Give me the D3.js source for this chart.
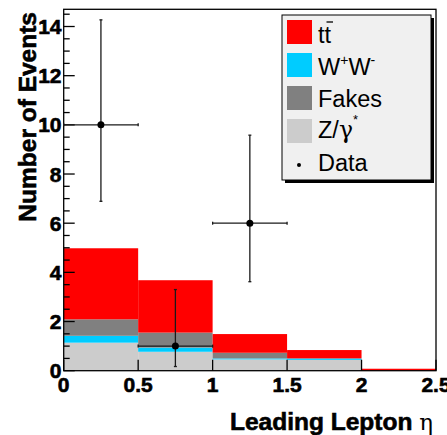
<!DOCTYPE html>
<html>
<head>
<meta charset="utf-8">
<script src="https://cdn.jsdelivr.net/npm/d3@7"></script>
<style>
  html, body { margin: 0; padding: 0; background: #fff; }
  svg { display: block; font-family: "Liberation Sans", Arial, sans-serif; }
  .bold { font-weight: bold; stroke: #000; stroke-width: 0.6px; }
</style>
</head>
<body>
<svg id="chart" width="447" height="435"></svg>
<script>
// Bin edges of the leading-lepton pseudorapidity histogram
const binEdges = [0, 0.5, 1, 1.5, 2, 2.5];

// Stacked background contributions per bin (bottom to top)
const zgamma = [1.14, 0.77, 0.46, 0.44, 0.0];
const wwPair = [0.28, 0.17, 0.04, 0.06, 0.0];
const fakes  = [0.67, 0.61, 0.23, 0.0, 0.0];
const ttbar  = [2.89, 2.13, 0.76, 0.34, 0.08];

// Observed data with asymmetric (Poisson) errors
const dataX   = [0.25, 0.75, 1.25];
const dataY   = [10, 1, 6];
const dataErrUp = [4.27, 2.30, 3.58];
const dataErrDn = [3.11, 0.83, 2.38];

const xTicks = [0, 0.5, 1, 1.5, 2, 2.5];
const xTickLabels = ["0", "0.5", "1", "1.5", "2", "2.5"];
const yTicks = [0, 2, 4, 6, 8, 10, 12, 14];

const svg = d3.select("#chart");
const margin = { left: 63.7, right: 11, top: 9.3, bottom: 64.3 };
const W = 447, H = 435;

const x = d3.scaleLinear().domain([0, 2.5]).range([margin.left, W - margin.right]);
const y = d3.scaleLinear().domain([0, 14.7]).range([H - margin.bottom, margin.top]);

const components = [
  { name: "zgamma", values: zgamma, color: "#cccccc" },
  { name: "ww",     values: wwPair, color: "#00ccff" },
  { name: "fakes",  values: fakes,  color: "#808080" },
  { name: "ttbar",  values: ttbar,  color: "#ff0000" }
];

// Build stacked rectangles
const bins = d3.range(binEdges.length - 1);
const stackRows = bins.map(i => {
  const row = { bin: i };
  components.forEach(c => { row[c.name] = c.values[i]; });
  return row;
});
const stack = d3.stack().keys(components.map(c => c.name))(stackRows);

const gHist = svg.append("g");
stack.forEach((layer, li) => {
  gHist.selectAll(null)
    .data(layer)
    .join("rect")
    .attr("x", d => x(binEdges[d.data.bin]))
    .attr("width", d => x(binEdges[d.data.bin + 1]) - x(binEdges[d.data.bin]))
    .attr("y", d => y(d[1]))
    .attr("height", d => Math.max(0, y(d[0]) - y(d[1])))
    .attr("fill", components[li].color);
});

// Frame
svg.append("rect")
  .attr("x", x(0)).attr("y", y(14.7))
  .attr("width", x(2.5) - x(0)).attr("height", y(0) - y(14.7))
  .attr("fill", "none").attr("stroke", "#000").attr("stroke-width", 1.3);

// Y axis: major ticks every 2, minor every 0.5, pointing inward
const yAxis = svg.append("g");
d3.range(0, 14.7, 0.5).forEach(v => {
  const major = Math.abs(v % 2) < 1e-9;
  yAxis.append("line")
    .attr("x1", x(0)).attr("x2", x(0) + (major ? 11 : 6))
    .attr("y1", y(v)).attr("y2", y(v))
    .attr("stroke", "#000").attr("stroke-width", 1.3);
});
yAxis.selectAll("text.ylab")
  .data(yTicks)
  .join("text")
  .attr("class", "ylab bold")
  .attr("x", 61.5)
  .attr("y", d => y(d) + 7.5)
  .attr("text-anchor", "end")
  .attr("font-size", 21)
  .text(d => d);

// X axis: major ticks at each label, pointing inward
const xAxis = svg.append("g");
xTicks.forEach(v => {
  xAxis.append("line")
    .attr("x1", x(v)).attr("x2", x(v))
    .attr("y1", y(0)).attr("y2", y(0) - 11)
    .attr("stroke", "#000").attr("stroke-width", 1.3);
});
xAxis.selectAll("text.xlab")
  .data(xTicks)
  .join("text")
  .attr("class", "xlab bold")
  .attr("x", d => x(d))
  .attr("y", y(0) + 21.5)
  .attr("text-anchor", "middle")
  .attr("font-size", 21)
  .text((d, i) => xTickLabels[i]);

// Axis titles
const xTitle = svg.append("text")
  .attr("x", 433).attr("y", 430)
  .attr("text-anchor", "end")
  .attr("font-size", 24.5);
xTitle.append("tspan").attr("class", "bold").text("Leading Lepton ");
xTitle.append("tspan")
  .attr("font-family", "'DejaVu Serif', 'Liberation Serif', serif")
  .attr("font-size", 23)
  .text("η");

svg.append("text")
  .attr("class", "bold")
  .attr("transform", "translate(35.5,12) rotate(-90)")
  .attr("text-anchor", "end")
  .attr("font-size", 24.5)
  .text("Number of Events");

// Data points with error bars
const gData = svg.append("g").attr("stroke", "#1a1a1a").attr("stroke-width", 1.3);
dataX.forEach((cx, i) => {
  const lo = binEdges[Math.floor(cx / 0.5)], hi = lo + 0.5;
  const px = x(cx), py = y(dataY[i]);
  const yUp = y(dataY[i] + dataErrUp[i]), yDn = y(dataY[i] - dataErrDn[i]);
  gData.append("line").attr("x1", px).attr("x2", px).attr("y1", yUp).attr("y2", yDn);
  gData.append("line").attr("x1", px - 1.5).attr("x2", px + 1.5).attr("y1", yUp).attr("y2", yUp);
  gData.append("line").attr("x1", px - 1.5).attr("x2", px + 1.5).attr("y1", yDn).attr("y2", yDn);
  gData.append("line").attr("x1", x(lo)).attr("x2", x(hi)).attr("y1", py).attr("y2", py);
  gData.append("line").attr("x1", x(lo)).attr("x2", x(lo)).attr("y1", py - 1.5).attr("y2", py + 1.5);
  gData.append("line").attr("x1", x(hi)).attr("x2", x(hi)).attr("y1", py - 1.5).attr("y2", py + 1.5);
  svg.append("circle").attr("cx", px).attr("cy", py).attr("r", 3.5).attr("fill", "#000");
});

// Legend
const lg = svg.append("g");
lg.append("rect").attr("x", 285).attr("y", 18).attr("width", 149).attr("height", 165).attr("fill", "#000");
lg.append("rect").attr("x", 282).attr("y", 15).attr("width", 149).attr("height", 165)
  .attr("fill", "#f0f0f0").attr("stroke", "#000").attr("stroke-width", 1);

const legendRows = [
  { color: "#ff0000", top: 20 },
  { color: "#00ccff", top: 53 },
  { color: "#808080", top: 86 },
  { color: "#cccccc", top: 119 }
];
legendRows.forEach(r => {
  lg.append("rect").attr("x", 287).attr("y", r.top).attr("width", 25).attr("height", 24).attr("fill", r.color);
});
lg.append("circle").attr("cx", 299).attr("cy", 165).attr("r", 2).attr("fill", "#000");

const fs = 23.5;
lg.append("text").attr("x", 318).attr("y", 43).attr("font-size", fs).text("tt");
lg.append("line").attr("x1", 326.5).attr("x2", 333).attr("y1", 22).attr("y2", 22)
  .attr("stroke", "#000").attr("stroke-width", 1.3);

const t2 = lg.append("text").attr("x", 318).attr("y", 75).attr("font-size", fs);
t2.append("tspan").text("W");
t2.append("tspan").attr("font-size", 14).attr("dy", -10).text("+");
t2.append("tspan").attr("dy", 10).text("W");
t2.append("tspan").attr("font-size", 14).attr("dy", -10).text("-");

lg.append("text").attr("x", 318).attr("y", 107).attr("font-size", fs).text("Fakes");

const t4 = lg.append("text").attr("x", 318).attr("y", 138).attr("font-size", fs);
t4.append("tspan").text("Z/");
t4.append("tspan").attr("font-family", "'DejaVu Serif', 'Liberation Serif', serif").text("γ");
t4.append("tspan").attr("font-size", 13).attr("dy", -14).text("*");

lg.append("text").attr("x", 318).attr("y", 171).attr("font-size", fs).text("Data");
</script>
</body>
</html>
